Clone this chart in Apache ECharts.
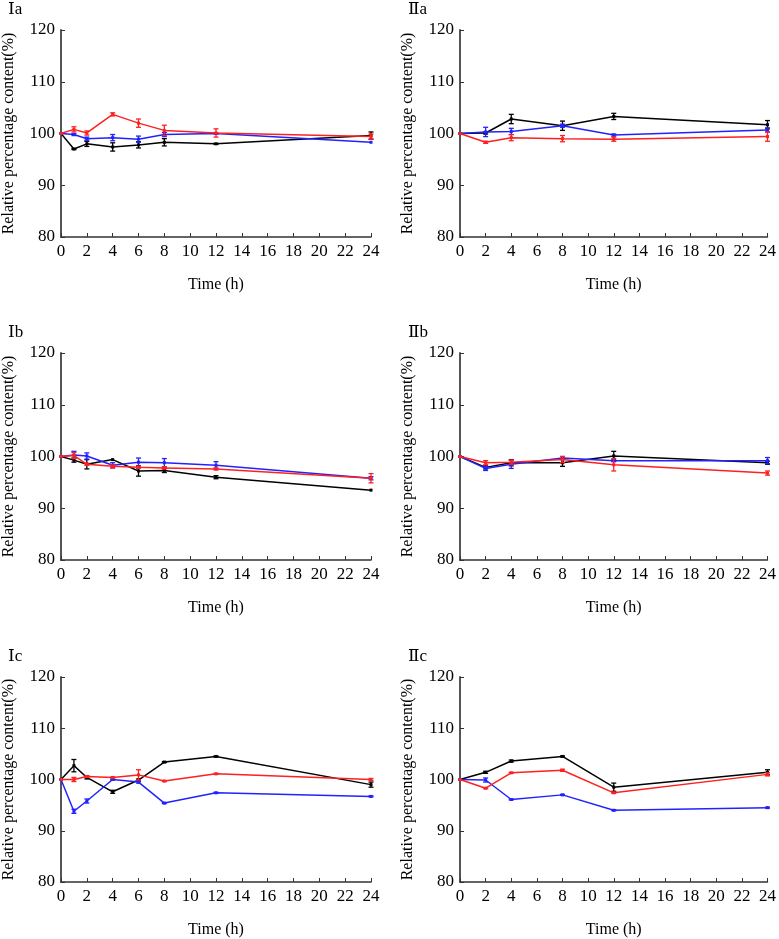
<!DOCTYPE html>
<html>
<head>
<meta charset="utf-8">
<script src="https://cdn.jsdelivr.net/npm/echarts@6/dist/echarts.min.js"></script>
<style>
  html, body { margin: 0; padding: 0; background: #fff; }
  #main { width: 779px; height: 939px; }
</style>
</head>
<body>
<div id="main"></div>
<script>
// time points (h)
const timesI = [0, 1, 2, 4, 6, 8, 12, 24]
const timesII = [0, 2, 4, 8, 12, 24]
const yTicks = [80, 90, 100, 110, 120]
const panelNames = ["Ⅰa", "Ⅱa", "Ⅰb", "Ⅱb", "Ⅰc", "Ⅱc"]

// Ia
const iaBlack = [100, 97.0, 98.0, 97.4, 97.8, 98.3, 98.0, 99.6]
const iaBlackErr = [0, 0.1, 0.5, 0.8, 0.6, 0.7, 0.1, 0.7]
const iaBlue = [100, 99.8, 99.0, 99.2, 98.9, 99.8, 100.0, 98.3]
const iaBlueErr = [0, 0.2, 0.3, 0.6, 0.6, 0.4, 0.1, 0]
const iaRed = [100, 100.8, 100.1, 103.7, 102.0, 100.6, 100.1, 99.4]
const iaRedErr = [0, 0.5, 0.4, 0.3, 0.8, 1.0, 0.8, 0.5]

// IIa
const iiaBlack = [100, 100.1, 102.8, 101.5, 103.3, 101.7]
const iiaBlackErr = [0, 0.2, 0.9, 0.9, 0.6, 0.8]
const iiaBlue = [100, 100.3, 100.4, 101.5, 99.7, 100.7]
const iiaBlueErr = [0, 0.9, 0.6, 0.3, 0.2, 0.4]
const iiaRed = [100, 98.3, 99.2, 99.0, 98.9, 99.4]
const iiaRedErr = [0, 0.2, 0.6, 0.6, 0.4, 0.9]

// Ib
const ibBlack = [100, 99.3, 98.5, 99.4, 97.2, 97.3, 96.0, 93.5]
const ibBlackErr = [0, 0.4, 0.9, 0, 1.0, 0.4, 0.3, 0]
const ibBlue = [100, 100.3, 100.1, 98.3, 98.9, 98.8, 98.3, 95.8]
const ibBlueErr = [0, 0.7, 0.6, 0.5, 0.8, 0.8, 0.7, 0.3]
const ibRed = [100, 100.2, 98.5, 98.1, 97.9, 97.8, 97.6, 95.8]
const ibRedErr = [0, 0.6, 0.2, 0.3, 0.2, 0.2, 0.2, 0.9]

// IIb
const iibBlack = [100, 97.9, 98.8, 98.8, 100.1, 98.8]
const iibBlackErr = [0, 0.3, 0.6, 0.7, 0.9, 0.3]
const iibBlue = [100, 97.7, 98.5, 99.7, 99.2, 99.2]
const iibBlueErr = [0, 0.4, 0.8, 0.3, 0.2, 0.6]
const iibRed = [100, 98.8, 98.9, 99.4, 98.4, 96.8]
const iibRedErr = [0, 0.4, 0.4, 0.6, 1.2, 0.4]

// Ic
const icBlack = [100, 102.7, 100.4, 97.6, 99.9, 103.4, 104.5, 99.0]
const icBlackErr = [0, 1.2, 0.3, 0.3, 0.2, 0.1, 0.1, 0.5]
const icBlue = [100, 93.8, 95.8, 100.0, 99.5, 95.4, 97.4, 96.7]
const icBlueErr = [0, 0.4, 0.4, 0.1, 0.2, 0.1, 0.1, 0.1]
const icRed = [100, 100.0, 100.6, 100.4, 100.9, 99.7, 101.1, 100.0]
const icRedErr = [0, 0.4, 0.1, 0.1, 1.0, 0.1, 0.1, 0.2]

// IIc
const iicBlack = [100, 101.4, 103.6, 104.5, 98.5, 101.4]
const iicBlackErr = [0, 0.2, 0.2, 0.1, 0.8, 0.5]
const iicBlue = [100, 99.9, 96.1, 97.0, 94.0, 94.5]
const iicBlueErr = [0, 0.4, 0.1, 0.1, 0.1, 0.1]
const iicRed = [100, 98.3, 101.3, 101.8, 97.4, 101.0]
const iicRedErr = [0, 0.1, 0.1, 0.2, 0.1, 0.3]

const panels = [
  { times: timesI, lines: [[iaBlack, iaBlackErr], [iaBlue, iaBlueErr], [iaRed, iaRedErr]] },
  { times: timesII, lines: [[iiaBlack, iiaBlackErr], [iiaBlue, iiaBlueErr], [iiaRed, iiaRedErr]] },
  { times: timesI, lines: [[ibBlack, ibBlackErr], [ibBlue, ibBlueErr], [ibRed, ibRedErr]] },
  { times: timesII, lines: [[iibBlack, iibBlackErr], [iibBlue, iibBlueErr], [iibRed, iibRedErr]] },
  { times: timesI, lines: [[icBlack, icBlackErr], [icBlue, icBlueErr], [icRed, icRedErr]] },
  { times: timesII, lines: [[iicBlack, iicBlackErr], [iicBlue, iicBlueErr], [iicRed, iicRedErr]] }
]
const colors = ["#000000", "#2222ff", "#ff2020"]
const font = "'Liberation Serif', 'DejaVu Serif', serif"

// layout of the six plot areas
const lefts = [60, 460]
const tops = [30, 353, 677]
const plotW = 311
const plotH = 207

const grids = []
const xAxes = []
const yAxes = []
const series = []
const titles = []

panels.forEach((p, i) => {
  const col = i % 2
  const row = Math.floor(i / 2)
  grids.push({ left: lefts[col], top: tops[row], width: plotW, height: plotH })
  titles.push({
    text: panelNames[i],
    left: lefts[col] - 57,
    top: tops[row] - 34,
    textStyle: { fontFamily: font, fontSize: 17, fontWeight: "normal", color: "#000" }
  })
  xAxes.push({
    gridIndex: i, type: "value", min: 0, max: 24, interval: 2,
    name: "Time (h)", nameLocation: "middle", nameGap: 40,
    nameTextStyle: { fontFamily: font, fontSize: 16, color: "#000" },
    axisLine: { lineStyle: { color: "#333", width: 1.5 } },
    axisTick: { inside: true, length: 4, lineStyle: { color: "#333" } },
    axisLabel: { fontFamily: font, fontSize: 17, color: "#000", margin: 6 },
    splitLine: { show: false }
  })
  yAxes.push({
    gridIndex: i, type: "value", min: yTicks[0], max: yTicks[yTicks.length - 1], interval: 10,
    name: "Relative percentage content(%)", nameLocation: "middle", nameGap: 44,
    nameTextStyle: { fontFamily: font, fontSize: 16, color: "#000" },
    axisLine: { show: true, lineStyle: { color: "#555", width: 2 } },
    axisTick: { show: true, inside: true, length: 4, lineStyle: { color: "#333" } },
    axisLabel: { fontFamily: font, fontSize: 17, color: "#000", margin: 6 },
    splitLine: { show: false }
  })
  p.lines.forEach(([vals, errs], k) => {
    const pts = p.times.map((t, j) => [t, vals[j]])
    series.push({
      type: "line", xAxisIndex: i, yAxisIndex: i,
      data: pts, symbol: "rect", symbolSize: 3,
      itemStyle: { color: colors[k] },
      lineStyle: { color: colors[k], width: 1.5 },
      z: 2 + k, animation: false
    })
    series.push({
      type: "custom", xAxisIndex: i, yAxisIndex: i,
      data: p.times.map((t, j) => [t, vals[j] - errs[j], vals[j] + errs[j]]),
      z: 3 + k, animation: false,
      renderItem: (params, api) => {
        const lo = api.coord([api.value(0), api.value(1)])
        const hi = api.coord([api.value(0), api.value(2)])
        if (Math.abs(lo[1] - hi[1]) < 1) return null
        const c = 2.5
        const style = { stroke: colors[k], lineWidth: 1.3 }
        return {
          type: "group",
          children: [
            { type: "line", shape: { x1: lo[0], y1: lo[1], x2: hi[0], y2: hi[1] }, style },
            { type: "line", shape: { x1: lo[0] - c, y1: lo[1], x2: lo[0] + c, y2: lo[1] }, style },
            { type: "line", shape: { x1: hi[0] - c, y1: hi[1], x2: hi[0] + c, y2: hi[1] }, style }
          ]
        }
      }
    })
  })
})

const chart = echarts.init(document.getElementById("main"))
chart.setOption({
  backgroundColor: "#fff",
  animation: false,
  title: titles,
  grid: grids,
  xAxis: xAxes,
  yAxis: yAxes,
  series: series
})
</script>
</body>
</html>
